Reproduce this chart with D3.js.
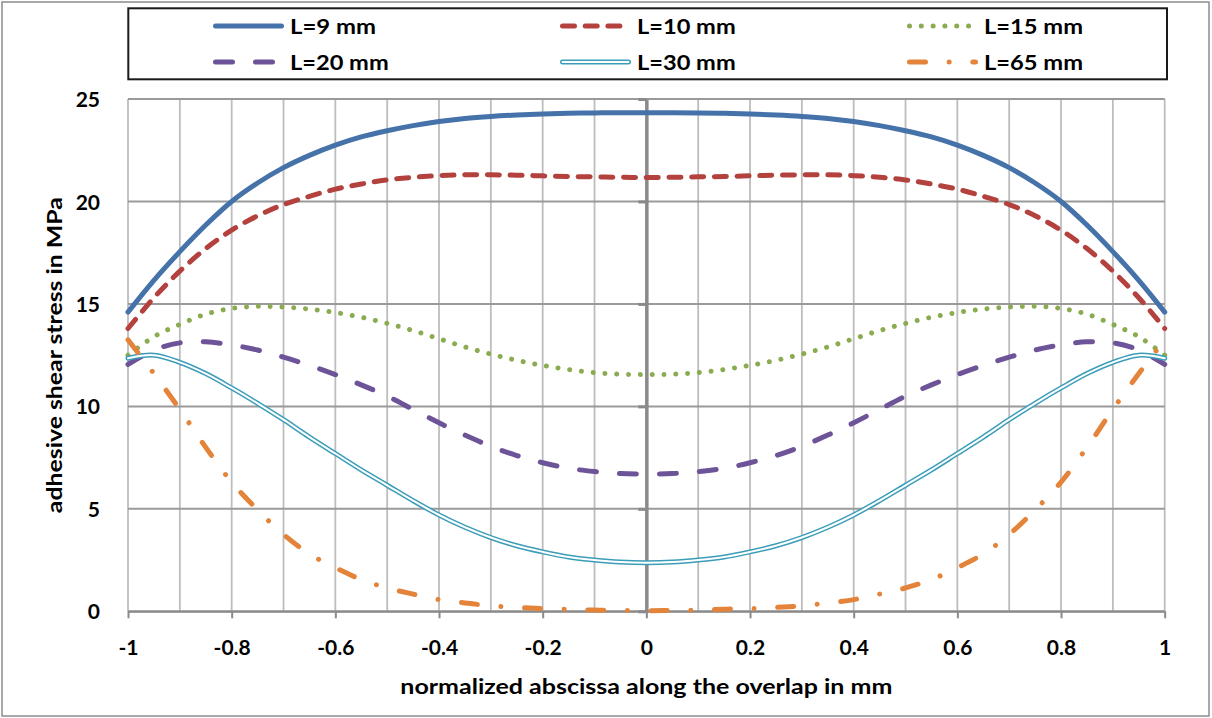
<!DOCTYPE html>
<html><head><meta charset="utf-8">
<script src="https://cdn.jsdelivr.net/npm/d3@7"></script>
<style>
html,body{margin:0;padding:0;background:#fff;}
svg{display:block;font-family:Lato,"Open Sans",sans-serif;font-weight:bold;}
</style></head>
<body>
<svg id="chart" width="1212" height="718"></svg>
<script>
// ---- data ----
const xValues = [-1,-0.95,-0.9,-0.85,-0.8,-0.75,-0.7,-0.65,-0.6,-0.55,-0.5,-0.45,-0.4,-0.35,-0.3,-0.25,-0.2,-0.15,-0.1,-0.05,0,
  0.05,0.1,0.15,0.2,0.25,0.3,0.35,0.4,0.45,0.5,0.55,0.6,0.65,0.7,0.75,0.8,0.85,0.9,0.95,1];
const seriesNames = ["L=9 mm","L=10 mm","L=15 mm","L=20 mm","L=30 mm","L=65 mm"];
const L9 = [14.6,16.15,17.55,18.85,20.0,20.9,21.65,22.25,22.75,23.15,23.45,23.7,23.9,24.05,24.15,24.22,24.27,24.3,24.32,24.33,24.33,
  24.33,24.32,24.3,24.27,24.22,24.15,24.05,23.9,23.7,23.45,23.15,22.75,22.25,21.65,20.9,20.0,18.85,17.55,16.15,14.6];
const L10 = [13.8,15.3,16.6,17.7,18.6,19.3,19.85,20.25,20.6,20.85,21.05,21.18,21.26,21.3,21.3,21.28,21.25,21.22,21.2,21.18,21.17,
  21.18,21.2,21.22,21.25,21.28,21.3,21.3,21.26,21.18,21.05,20.85,20.6,20.25,19.85,19.3,18.6,17.7,16.6,15.3,13.8];
const L15 = [12.5,13.4,14.0,14.5,14.78,14.88,14.85,14.75,14.58,14.35,14.05,13.7,13.3,12.9,12.55,12.25,12.0,11.8,11.65,11.57,11.55,
  11.57,11.65,11.8,12.0,12.25,12.55,12.9,13.3,13.7,14.05,14.35,14.58,14.75,14.85,14.88,14.78,14.5,14.0,13.4,12.5];
const L20 = [12.05,12.75,13.1,13.15,13.0,12.75,12.4,12.0,11.55,11.05,10.5,9.85,9.2,8.6,8.05,7.6,7.25,6.98,6.82,6.72,6.7,
  6.72,6.82,6.98,7.25,7.6,8.05,8.6,9.2,9.85,10.5,11.05,11.55,12.0,12.4,12.75,13.0,13.15,13.1,12.75,12.05];
const L30 = [12.35,12.5,12.15,11.6,10.9,10.15,9.35,8.5,7.7,6.9,6.15,5.4,4.7,4.1,3.6,3.2,2.9,2.65,2.5,2.4,2.37,
  2.4,2.5,2.65,2.9,3.2,3.6,4.1,4.7,5.4,6.15,6.9,7.7,8.5,9.35,10.15,10.9,11.6,12.15,12.5,12.35];
const L65 = [13.25,11.6,9.85,8.0,6.3,4.95,3.75,2.8,2.13,1.55,1.14,0.84,0.57,0.41,0.27,0.19,0.13,0.1,0.06,0.04,0.03,
  0.04,0.06,0.1,0.13,0.19,0.27,0.41,0.57,0.84,1.14,1.55,2.13,2.8,3.75,4.95,6.3,8.0,9.85,11.6,13.25];
const xTicks = [-1,-0.8,-0.6,-0.4,-0.2,0,0.2,0.4,0.6,0.8,1];
const xTickLabels = ["-1","-0.8","-0.6","-0.4","-0.2","0","0.2","0.4","0.6","0.8","1"];
const yTicks = [0,5,10,15,20,25];
const yTickLabels = ["0","5","10","15","20","25"];
const xGrid = [-1,-0.9,-0.8,-0.7,-0.6,-0.5,-0.4,-0.3,-0.2,-0.1,0,0.1,0.2,0.3,0.4,0.5,0.6,0.7,0.8,0.9,1];
const xTitle = "normalized abscissa along the overlap in mm";
const yTitle = "adhesive shear stress in MPa";

// ---- styles ----
const styles = [
  {color:"#4672aa", width:5, dash:null},
  {color:"#b3423e", width:5, dash:"12 10.7"},
  {color:"#8aab4f", width:5, dash:"0.01 11.8"},
  {color:"#6d5397", width:5, dash:"17 23"},
  {color:"#3b9db8", width:5, dash:null, double:true},
  {color:"#e3843a", width:5, dash:"16 23.65 0.01 23.65"}
];
const legendTextWidths = [86, 98.7, 99, 98.7, 98.7, 99];
const allSeries = [L9, L10, L15, L20, L30, L65];

const svg = d3.select("#chart");
svg.append("rect").attr("x",2).attr("y",2).attr("width",1207).attr("height",714)
  .attr("fill","#fff").attr("stroke","#8c8c8c").attr("stroke-width",1.5);

const x = d3.scaleLinear().domain([-1,1]).range([128,1164.7]);
const y = d3.scaleLinear().domain([0,25]).range([611.3,99]);

// gridlines
svg.append("g").selectAll("line").data(xGrid).join("line")
  .attr("x1",d=>x(d)).attr("x2",d=>x(d)).attr("y1",y(0)).attr("y2",y(25))
  .attr("stroke","#bdbdbd").attr("stroke-width",1.8);
svg.append("g").selectAll("line").data(yTicks).join("line")
  .attr("x1",x(-1)).attr("x2",x(1)).attr("y1",d=>y(d)).attr("y2",d=>y(d))
  .attr("stroke","#9a9a9a").attr("stroke-width",2);

// x axis
const xAxis = svg.append("g").attr("transform",`translate(0,${y(0)})`)
  .call(d3.axisBottom(x).tickValues(xTicks).tickFormat((d,i)=>xTickLabels[i]).tickSize(7).tickSizeOuter(0));
xAxis.select(".domain").attr("stroke","#8a8a8a").attr("stroke-width",2);
xAxis.selectAll(".tick line").attr("stroke","#8a8a8a").attr("stroke-width",2);
xAxis.selectAll(".tick text").attr("y",44).attr("dy",0).attr("fill","#000")
  .style("font-size","21px").style("font-weight","bold").style("font-family","Lato");

// y axis at x=0 (ticks only)
const yAxis = svg.append("g").attr("transform",`translate(${x(0)},0)`)
  .call(d3.axisLeft(y).tickValues(yTicks).tickFormat("").tickSize(8).tickSizeOuter(0));
yAxis.select(".domain").attr("stroke","#8a8a8a").attr("stroke-width",3.5);
yAxis.selectAll(".tick line").attr("stroke","#8a8a8a").attr("stroke-width",3);
// y tick labels at low position
const yLab = svg.append("g").attr("transform",`translate(100,0)`)
  .call(d3.axisLeft(y).tickValues(yTicks).tickFormat((d,i)=>yTickLabels[i]).tickSize(0).tickPadding(0));
yLab.select(".domain").remove();
yLab.selectAll(".tick text").attr("fill","#000").attr("dy","0.36em")
  .style("font-size","21px").style("font-weight","bold").style("font-family","Lato");

// series
const line = d3.line().x((d,i)=>x(xValues[i])).y(d=>y(d)).curve(d3.curveCatmullRom.alpha(0.5));
const gS = svg.append("g");
allSeries.forEach((s,k)=>{
  const st = styles[k];
  const p = gS.append("path").datum(s).attr("d",line).attr("fill","none")
    .attr("stroke",st.color).attr("stroke-width",st.width)
    .attr("stroke-linecap","round").attr("stroke-linejoin","round");
  if(st.dash) p.attr("stroke-dasharray",st.dash);
  if(st.double){
    gS.append("path").datum(s).attr("d",line).attr("fill","none")
      .attr("stroke","#fff").attr("stroke-width",2).attr("stroke-linecap","round");
  }
});

// axis titles
svg.append("text").attr("x",x(0)).attr("y",694).attr("text-anchor","middle")
  .attr("textLength",492).attr("lengthAdjust","spacingAndGlyphs")
  .style("font-size","20.5px").attr("fill","#000").text(xTitle);
svg.append("text").attr("transform",`translate(62,${(y(0)+y(25))/2}) rotate(-90)`).attr("text-anchor","middle")
  .attr("textLength",316).attr("lengthAdjust","spacingAndGlyphs")
  .style("font-size","20.5px").attr("fill","#000").text(yTitle);

// legend
svg.append("rect").attr("x",128.3).attr("y",8.3).attr("width",1038.7).attr("height",71)
  .attr("fill","#fff").attr("stroke","#1a1a1a").attr("stroke-width",2);
const legX = [213,560,907], legY = [26,62];
seriesNames.forEach((name,k)=>{
  const cx = legX[k%3], cy = legY[Math.floor(k/3)];
  const st = styles[k];
  const g = svg.append("g");
  const l = g.append("line").attr("x1",cx+2.5).attr("x2",cx+68.5).attr("y1",cy).attr("y2",cy)
    .attr("stroke",st.color).attr("stroke-width",st.width).attr("stroke-linecap","round");
  if(st.dash) l.attr("stroke-dasharray",st.dash);
  if(st.double) g.append("line").attr("x1",cx+2.5).attr("x2",cx+68.5).attr("y1",cy).attr("y2",cy)
    .attr("stroke","#fff").attr("stroke-width",2).attr("stroke-linecap","round");
  g.append("text").attr("x",cx+77).attr("y",cy+8.3)
    .attr("textLength",legendTextWidths[k]).attr("lengthAdjust","spacingAndGlyphs")
    .style("font-size","21px").attr("fill","#000").text(name);
});
</script>
</body></html>
